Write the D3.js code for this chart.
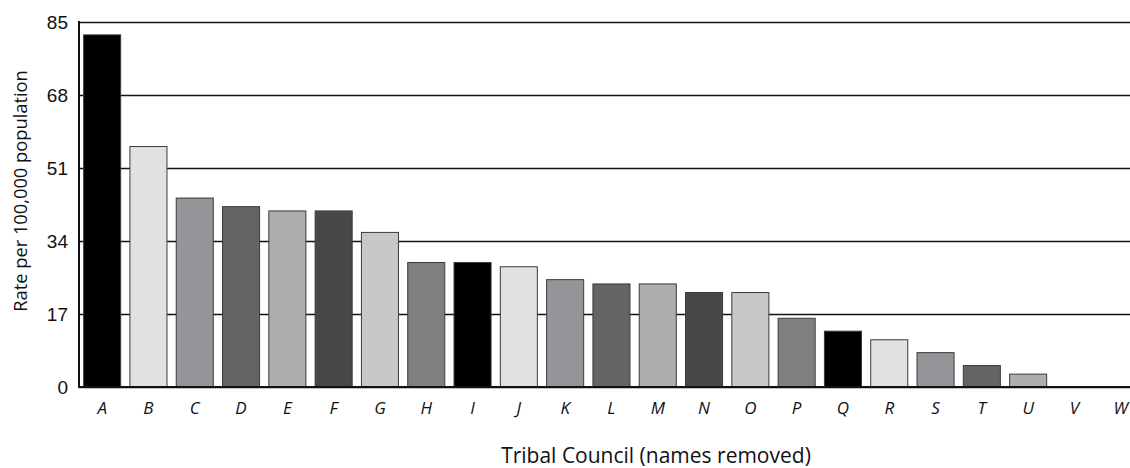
<!DOCTYPE html>
<html>
<head>
<meta charset="utf-8">
<script src="https://cdn.jsdelivr.net/npm/d3@7"></script>
<style>
body{margin:0;background:#fff;}
svg{display:block;font-family:"Open Sans","Noto Sans",sans-serif;}
</style>
</head>
<body>
<div id="plot"></div>
<script>
var W = 1130, H = 468;
var m = {t:22,r:0,b:81,l:79};

// data
var councils = ['A','B','C','D','E','F','G','H','I','J','K','L','M','N','O','P','Q','R','S','T','U','V','W'];
var rates = [82,56,44,42,41,41,36,29,29,28,25,24,24,22,22,16,13,11,8,5,3,0,0];
var fills = ['#000000','#e0e1e2','#939598','#636466','#adaeb0','#48484a','#c7c8ca','#7e7f81'];
var yTicks = [0,17,34,51,68,85];

var svg = d3.select('#plot').append('svg')
	.attr('width',W)
	.attr('height',H);

var x = d3.scaleBand()
	.domain(councils)
	.range([m.l, m.l + 23*46.3])
	.paddingInner(0.2)
	.paddingOuter(0.1);

var y = d3.scaleLinear()
	.domain([0,85])
	.range([H-m.b, m.t]);

//gridlines + tick labels
var yAxis = svg.append('g')
	.attr('transform','translate('+m.l+',0)')
	.call(d3.axisLeft(y).tickValues(yTicks).tickSize(-(W-m.l)).tickPadding(11).tickFormat(d3.format('d')));
yAxis.select('.domain').remove();
yAxis.selectAll('line').attr('stroke','#111').attr('stroke-width',1.6);
yAxis.selectAll('text').attr('font-size',19).attr('fill','#111');

//bars
svg.append('g').selectAll('rect')
	.data(rates)
	.enter().append('rect')
	.attr('x',function(d,i){ return x(councils[i]); })
	.attr('y',function(d){ return y(d); })
	.attr('width',x.bandwidth())
	.attr('height',function(d){ return y(0)-y(d); })
	.attr('fill',function(d,i){ return fills[i % fills.length]; })
	.attr('stroke',function(d){ return d>0 ? '#3a3a3a' : 'none'; })
	.attr('stroke-width',1);

//axis lines
svg.append('line')
	.attr('x1',m.l).attr('x2',m.l)
	.attr('y1',y(85)-1).attr('y2',y(0)+1)
	.attr('stroke','#111').attr('stroke-width',2);
svg.append('line')
	.attr('x1',m.l).attr('x2',W)
	.attr('y1',y(0)).attr('y2',y(0))
	.attr('stroke','#111').attr('stroke-width',2);

//x labels
svg.append('g').selectAll('text')
	.data(councils)
	.enter().append('text')
	.attr('x',function(d){ return x(d)+x.bandwidth()/2; })
	.attr('y',y(0)+27)
	.attr('text-anchor','middle')
	.attr('font-size',17)
	.attr('font-style','italic')
	.attr('fill','#111')
	.text(function(d){ return d; });

//axis titles
svg.append('text')
	.attr('x',656)
	.attr('y',463)
	.attr('text-anchor','middle')
	.attr('font-size',21)
	.attr('fill','#111')
	.text('Tribal Council (names removed)');

svg.append('text')
	.attr('transform','translate(27,191) rotate(-90)')
	.attr('text-anchor','middle')
	.attr('font-size',18.3)
	.attr('fill','#111')
	.text('Rate per 100,000 population');
</script>
</body>
</html>
